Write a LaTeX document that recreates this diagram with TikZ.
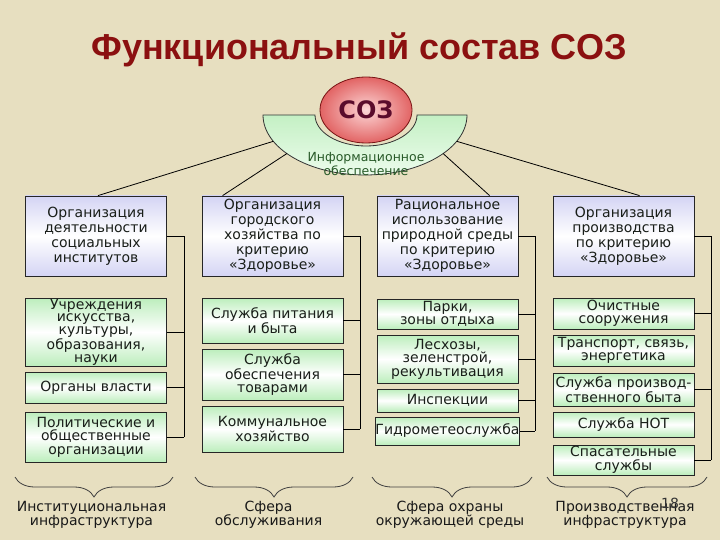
\documentclass[tikz,border=0pt]{standalone}
\usepackage{fontspec}
\setmainfont{DejaVu Sans}
\newfontfamily\titlefont{Liberation Sans}
\usetikzlibrary{shapes.geometric,decorations.pathreplacing,calc}
\definecolor{bg}{RGB}{231,223,192}
\definecolor{titlered}{RGB}{139,16,16}
\definecolor{lav}{RGB}{212,212,244}
\definecolor{grn}{RGB}{188,238,188}
\definecolor{boxtext}{RGB}{25,30,25}
\definecolor{infogreen}{RGB}{40,90,40}
\definecolor{sozred}{RGB}{226,100,100}
\definecolor{sozpink}{RGB}{252,214,214}
\definecolor{sozdark}{RGB}{90,12,44}
\begin{document}
\begin{tikzpicture}[x=1pt,y=-1pt,
  toprow/.style={draw=black!85, line width=0.8pt, top color=lav, bottom color=lav, middle color=white,
    minimum width=141pt, minimum height=80pt, inner sep=0pt, align=center,
    font=\fontsize{14}{15}\selectfont, text=boxtext},
  gbox/.style={draw=black!85, line width=0.8pt, top color=grn, bottom color=grn, middle color=white,
    minimum width=141pt, inner sep=0pt, align=center,
    font=\fontsize{14}{13.5}\selectfont, text=boxtext},
  conn/.style={draw=black, line width=0.8pt},
  bracestyle/.style={draw=black!75, line width=0.8pt, decorate, decoration={brace, mirror, amplitude=20pt}},
  lab/.style={align=center, font=\fontsize{14}{14}\selectfont, text=black!90, inner sep=0pt}
]
\fill[bg] (0,0) rectangle (720,540);
\useasboundingbox (0,0) rectangle (720,540);

% title
\node[anchor=base, text=titlered, font=\titlefont\bfseries\fontsize{36}{36}\selectfont, inner sep=0pt] (title) at (359,60) {Функциональный состав СОЗ};

% crescent
\draw[draw=black!80, line width=0.8pt, top color={rgb,255:red,196;green,240;blue,196}, bottom color={rgb,255:red,236;green,252;blue,236}]
  (263,115) arc[start angle=180, end angle=360, x radius=102pt, y radius=60pt]
  -- (417,115) arc[start angle=0, end angle=-180, x radius=51pt, y radius=31pt] -- cycle;
\coordinate (cr1) at ($(365,115)+(206:102pt and 60pt)$);
\coordinate (cr2) at ($(365,115)+(220:102pt and 60pt)$);
\coordinate (cr3) at ($(365,115)+(320:102pt and 60pt)$);
\coordinate (cr4) at ($(365,115)+(334:102pt and 60pt)$);

\node[ellipse, draw={rgb,255:red,120;green,20;blue,20}, line width=0.8pt, inner color=sozpink, outer color=sozred,
  minimum width=92pt, minimum height=66pt, inner sep=0pt, text=sozdark,
  font=\bfseries\fontsize{24}{24}\selectfont] (soz) at (366,110) {СОЗ};
\node[align=center, text=infogreen, font=\fontsize{12.5}{12}\selectfont, inner sep=0pt] (info) at (366,164) {Информационное\\обеспечение};

% top row
\node[toprow] (A) at (96,236) {Организация\\деятельности\\социальных\\институтов};
\node[toprow] (B) at (272.5,236) {Организация\\городского\\хозяйства по\\критерию\\«Здоровье»};
\node[toprow] (C) at (447.5,236) {Рациональное\\использование\\природной среды\\по критерию\\«Здоровье»};
\node[toprow] (D) at (623.5,236) {Организация\\производства\\по критерию\\«Здоровье»};

\draw[conn] (cr1) -- ([xshift=2pt]A.north);
\draw[conn] (cr2) -- ([xshift=21pt]B.north west);
\draw[conn] (cr3) -- ([xshift=113pt]C.north west);
\draw[conn] (cr4) -- ([xshift=87pt]D.north west);

% column 1
\node[gbox, minimum height=68pt, font=\fontsize{14}{12.8}\selectfont] (A1) at (96,332) {Учреждения\\искусства,\\культуры,\\образования,\\науки};
\node[gbox, minimum height=31pt] (A2) at (96,387.5) {Органы власти};
\node[gbox, minimum height=50pt] (A3) at (96,437) {Политические и\\общественные\\организации};
% column 2
\node[gbox, minimum height=45pt] (B1) at (272.5,320.5) {Служба питания\\и быта};
\node[gbox, minimum height=51pt] (B2) at (272.5,374.5) {Служба\\обеспечения\\товарами};
\node[gbox, minimum height=46pt] (B3) at (272.5,429) {Коммунальное\\хозяйство};
% column 3
\node[gbox, minimum height=30pt] (C1) at (447.5,314) {Парки,\\зоны отдыха};
\node[gbox, minimum height=48pt] (C2) at (447.5,359) {Лесхозы,\\зеленстрой,\\рекультивация};
\node[gbox, minimum height=23pt] (C3) at (447.5,400.5) {Инспекции};
\node[gbox, minimum height=28pt] (C4) at (447.5,431) {Гидрометеослужба};
% column 4
\node[gbox, minimum height=31pt] (D1) at (623.5,313.5) {Очистные\\сооружения};
\node[gbox, minimum height=31pt] (D2) at (623.5,350.5) {Транспорт, связь,\\энергетика};
\node[gbox, minimum height=33pt] (D3) at (623.5,389.5) {Служба производ-\\ственного быта};
\node[gbox, minimum height=25pt] (D4) at (623.5,424.5) {Служба НОТ};
\node[gbox, minimum height=30pt] (D5) at (623.5,460) {Спасательные\\службы};

% buses
\coordinate (busA) at (184,0);
\coordinate (busB) at (360,0);
\coordinate (busC) at (535,0);
\coordinate (busD) at (711,0);
\foreach \n in {A,A1,A2,A3} {\draw[conn] (\n.east) -- (\n.east -| busA);}
\draw[conn] (A.east -| busA) -- (A3.east -| busA);
\foreach \n in {B,B1,B2,B3} {\draw[conn] (\n.east) -- (\n.east -| busB);}
\draw[conn] (B.east -| busB) -- (B3.east -| busB);
\foreach \n in {C,C1,C2,C3,C4} {\draw[conn] (\n.east) -- (\n.east -| busC);}
\draw[conn] (C.east -| busC) -- (C4.east -| busC);
\foreach \n in {D,D1,D3,D5} {\draw[conn] (\n.east) -- (\n.east -| busD);}
\draw[conn] (D.east -| busD) -- (D5.east -| busD);

% braces
\draw[bracestyle] (15,477) -- (173,477);
\draw[bracestyle] (195,477) -- (353,477);
\draw[bracestyle] (372,477) -- (532,477);
\draw[bracestyle] (547,477) -- (707,477);

\node[lab] (L1) at (91.5,515) {Институциональная\\инфраструктура};
\node[lab] (L2) at (268.5,515) {Сфера\\обслуживания};
\node[lab] (L3) at (450,515) {Сфера охраны\\окружающей среды};
\node[lab] (L4) at (625,515) {Производственная\\инфраструктура};
\node[font=\fontsize{14}{14}\selectfont, text=black!80, inner sep=0pt] (pg) at (670,503) {18};
\end{tikzpicture}
\end{document}
